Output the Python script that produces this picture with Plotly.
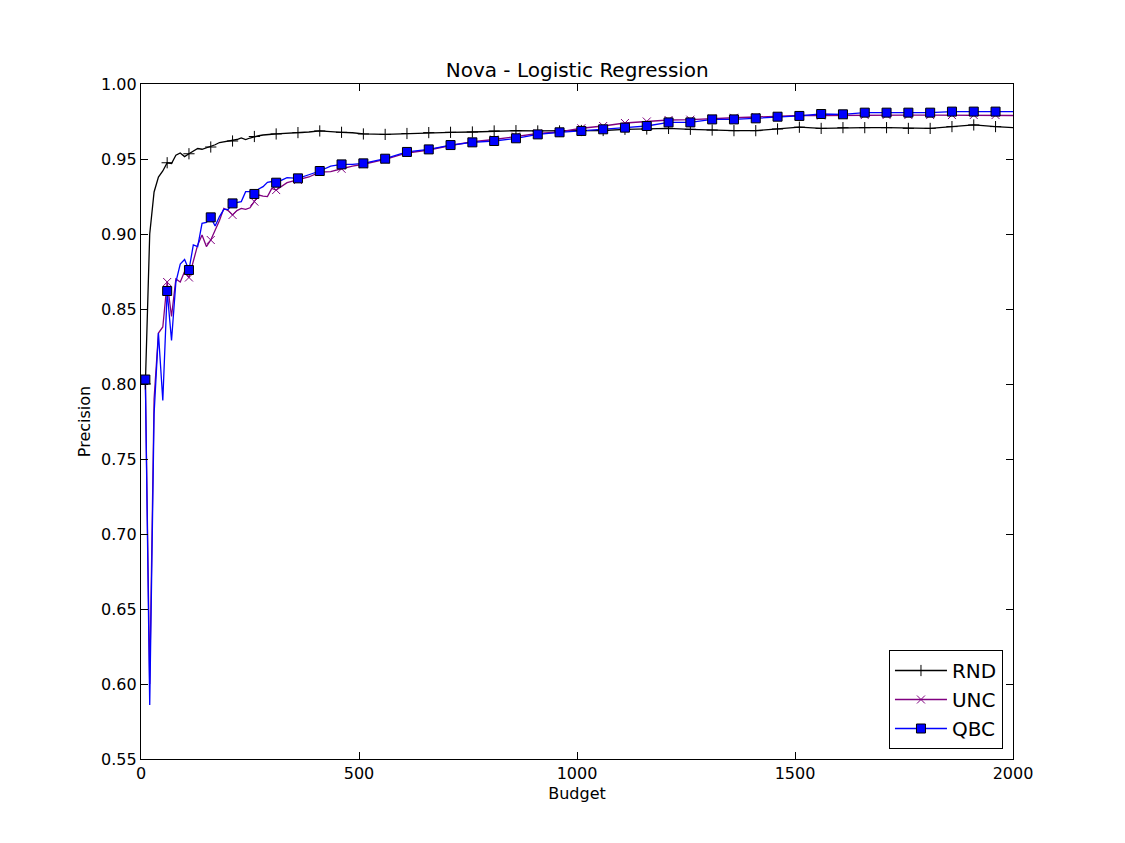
import plotly.graph_objects as go

budget = [10, 20, 30, 40, 50, 60, 70, 80, 90, 100,
          110, 120, 130, 140, 150, 160, 170, 180, 190, 200,
          210, 220, 230, 240, 250, 260, 270, 280, 290, 300,
          310, 335, 360, 385, 410, 435, 460, 485, 510, 560,
          610, 660, 710, 760, 810, 860, 910, 960, 1010, 1060,
          1110, 1160, 1210, 1260, 1310, 1360, 1410, 1460, 1510, 1560,
          1610, 1660, 1710, 1760, 1810, 1860, 1910, 1960, 2000]

rnd = [0.800, 0.900, 0.928, 0.938, 0.942, 0.9475, 0.947, 0.9525, 0.954, 0.9516,
       0.9535, 0.955, 0.957, 0.9565, 0.9575, 0.958, 0.9595, 0.961, 0.9615, 0.9617,
       0.962, 0.963, 0.964, 0.963, 0.964, 0.965, 0.9655, 0.966, 0.966, 0.9665,
       0.9667, 0.967, 0.9676, 0.968, 0.9687, 0.9685, 0.9678, 0.9675, 0.9667, 0.9664,
       0.967, 0.9676, 0.9678, 0.968, 0.9687, 0.9689, 0.9687, 0.9687, 0.969, 0.969,
       0.9698, 0.970, 0.9704, 0.9698, 0.9693, 0.9689, 0.9689, 0.970, 0.9712, 0.9704,
       0.9709, 0.9709, 0.9709, 0.9704, 0.9704, 0.9716, 0.9727, 0.9716, 0.9709]

unc = [0.803, 0.600, 0.790, 0.834, 0.838, 0.868, 0.845, 0.870, 0.868, 0.875,
       0.871, 0.8827, 0.8927, 0.8993, 0.8916, 0.896, 0.9027, 0.909, 0.9171, 0.9156,
       0.9127, 0.9156, 0.9171, 0.9164, 0.9175, 0.9216, 0.926, 0.9253, 0.9249, 0.9304,
       0.9293, 0.9342, 0.936, 0.938, 0.9413, 0.9416, 0.9435, 0.9453, 0.9465, 0.9497,
       0.954, 0.956, 0.959, 0.9615, 0.963, 0.965, 0.967, 0.968, 0.9705, 0.972,
       0.974, 0.975, 0.976, 0.9762, 0.977, 0.9775, 0.978, 0.9787, 0.979, 0.979,
       0.9792, 0.9793, 0.9793, 0.9793, 0.9793, 0.9793, 0.9793, 0.9793, 0.979]

qbc = [0.803, 0.586, 0.780, 0.834, 0.789, 0.862, 0.829, 0.868, 0.880, 0.883,
       0.876, 0.8927, 0.8916, 0.9071, 0.9078, 0.9111, 0.9053, 0.9116, 0.9164, 0.9164,
       0.9204, 0.9209, 0.9216, 0.9282, 0.9282, 0.9267, 0.930, 0.9316, 0.9345, 0.935,
       0.9342, 0.9376, 0.9371, 0.9395, 0.942, 0.9452, 0.9464, 0.9464, 0.9471, 0.9502,
       0.9547, 0.9564, 0.9593, 0.9611, 0.962, 0.9638, 0.9664, 0.9678, 0.9687, 0.9698,
       0.9709, 0.972, 0.9744, 0.9744, 0.9764, 0.9764, 0.9771, 0.9782, 0.9787, 0.980,
       0.9798, 0.9809, 0.9809, 0.9809, 0.9809, 0.9816, 0.9816, 0.9816, 0.9816]

series_names = ["RND", "UNC", "QBC"]
x_ticks = [0, 500, 1000, 1500, 2000]
y_ticks = [0.55, 0.60, 0.65, 0.70, 0.75, 0.80, 0.85, 0.90, 0.95, 1.00]

styles = {
    "RND": dict(color="#000000", symbol="cross-thin", size=8, lw=1.0, mcolor="#000000"),
    "UNC": dict(color="#800080", symbol="x-thin", size=8, lw=1.0, mcolor="#800080"),
    "QBC": dict(color="#0000ff", symbol="square", size=9, lw=1.0, mcolor="#000000"),
}

# markers shown every 50 budget units starting at 10
mark_idx = [i for i, b in enumerate(budget) if (b - 10) % 50 == 0]

fig = go.Figure()
for name, ys in zip(series_names, [rnd, unc, qbc]):
    s = styles[name]
    fig.add_trace(go.Scatter(x=budget, y=ys, mode="lines", name=name,
                             line=dict(color=s["color"], width=1.3),
                             showlegend=False))
for name, ys in zip(series_names, [rnd, unc, qbc]):
    s = styles[name]
    fill = s["color"] if name == "QBC" else "rgba(0,0,0,0)"
    fig.add_trace(go.Scatter(x=[budget[i] for i in mark_idx], y=[ys[i] for i in mark_idx],
                             mode="markers", showlegend=False,
                             marker=dict(symbol=s["symbol"], size=s["size"], color=fill,
                                         line=dict(color=s["mcolor"], width=s["lw"]))))
for name in series_names:
    s = styles[name]
    fill = s["color"] if name == "QBC" else "rgba(0,0,0,0)"
    fig.add_trace(go.Scatter(x=[None], y=[None], mode="lines+markers", name=name,
                             line=dict(color=s["color"], width=1.3),
                             marker=dict(symbol=s["symbol"], size=s["size"], color=fill,
                                         line=dict(color=s["mcolor"], width=s["lw"]))))

axis_common = dict(showgrid=False, zeroline=False, showline=True, linecolor="black",
                   linewidth=1.2, mirror="ticks", ticks="inside", ticklen=7,
                   tickcolor="black", tickwidth=1,
                   tickfont=dict(family="DejaVu Sans", size=16, color="black"))

# the page body adds an 8px offset, so margins are shifted to compensate
fig.update_layout(
    width=1125, height=843,
    paper_bgcolor="white", plot_bgcolor="white",
    margin=dict(l=133, r=120, t=76, b=92),
    title=dict(text="Nova - Logistic Regression", x=0.506, xanchor="center",
               y=1 - 62 / 843, yanchor="middle",
               font=dict(family="DejaVu Sans", size=20, color="black")),
    xaxis=dict(range=[0, 2000], tickvals=x_ticks, ticktext=[str(v) for v in x_ticks],
               title=dict(text="Budget", font=dict(family="DejaVu Sans", size=16, color="black"),
                          standoff=5),
               **axis_common),
    yaxis=dict(range=[0.55, 1.0], tickvals=y_ticks, ticktext=[f"{v:.2f}" for v in y_ticks],
               title=dict(text="Precision", font=dict(family="DejaVu Sans", size=16, color="black"),
                          standoff=6),
               **axis_common),
    legend=dict(x=0.9885, y=0.0148, xanchor="right", yanchor="bottom",
                bgcolor="white", bordercolor="black", borderwidth=1,
                font=dict(family="DejaVu Sans", size=20, color="black"),
                itemwidth=52, tracegroupgap=0),
    showlegend=True,
)

fig.write_html("out.html")
